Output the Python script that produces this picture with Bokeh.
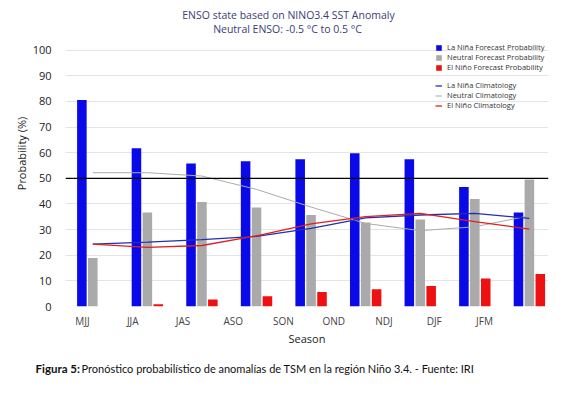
from bokeh.plotting import figure
from bokeh.layouts import column
from bokeh.models import (Range1d, LinearAxis, FixedTicker, Span, Legend, LegendItem, Label)
from bokeh.transform import dodge
from bokeh.embed import file_html
from bokeh.resources import INLINE

seasons = ["MJJ", "JJA", "JAS", "ASO", "SON", "OND", "NDJ", "DJF", "JFM"]
lanina_prob = [80.6, 61.7, 55.8, 56.7, 57.5, 59.8, 57.5, 46.6, 36.7]
neutral_prob = [18.9, 36.7, 40.8, 38.6, 35.7, 32.8, 33.9, 41.9, 49.6]
elnino_prob = [0.0, 0.9, 2.7, 4.0, 5.7, 6.7, 8.0, 10.9, 12.7]
lanina_clim = [24.3, 25.1, 26.1, 27.4, 30.5, 34.6, 35.7, 36.3, 34.4]
neutral_clim = [52.2, 52.2, 50.9, 45.7, 38.8, 32.4, 29.6, 31.1, 35.4]
elnino_clim = [24.3, 23.1, 23.8, 27.6, 32.2, 35.1, 36.3, 33.1, 30.2]
y_ticks = [0, 10, 20, 30, 40, 50, 60, 70, 80, 90, 100]

idx = list(range(len(seasons)))
src = dict(x=idx, lanina=lanina_prob, neutral=neutral_prob, elnino=elnino_prob,
           lclim=lanina_clim, nclim=neutral_clim, eclim=elnino_clim)

FONT = "Open Sans"

# y range extends above 100 so the header text sits inside the (white) frame
p = figure(width=551, height=348, output_backend="svg", toolbar_location=None,
           x_range=(-0.5, 8.35), y_range=(0, 119.4), x_axis_type=None,
           min_border_left=65, min_border_right=3, min_border_top=0, min_border_bottom=40)
p.outline_line_color = None
p.border_fill_color = "white"
p.frame_align = False

# gridlines / y axis
p.ygrid.ticker = FixedTicker(ticks=y_ticks)
p.ygrid.grid_line_color = "#e4e4e4"
p.yaxis.ticker = FixedTicker(ticks=y_ticks)
p.yaxis.axis_line_color = None
p.yaxis.major_tick_line_color = None
p.yaxis.major_tick_out = 0
p.yaxis.major_tick_in = 0
p.yaxis.minor_tick_line_color = None
p.yaxis.major_label_standoff = 14
p.yaxis.major_label_text_font = FONT
p.yaxis.major_label_text_font_size = "11px"
p.yaxis.major_label_text_color = "#222222"
p.yaxis.axis_label = "Probability (%)"
p.yaxis.axis_label_text_font = FONT
p.yaxis.axis_label_text_font_size = "11px"
p.yaxis.axis_label_text_font_style = "normal"
p.yaxis.axis_label_text_color = "#222222"
p.yaxis.axis_label_standoff = 1

# season label axis
p.extra_x_ranges = {"lab": Range1d(-0.338, 9.274)}
xax = LinearAxis(x_range_name="lab", ticker=FixedTicker(ticks=idx),
                 major_label_overrides={i: s for i, s in zip(idx, seasons)})
xax.axis_line_color = None
xax.major_tick_line_color = None
xax.major_tick_out = 0
xax.major_tick_in = 0
xax.minor_tick_line_color = None
xax.major_label_standoff = 7
xax.major_label_text_font = FONT
xax.major_label_text_font_size = "10px"
xax.major_label_text_color = "#444444"
xax.axis_label = "Season"
xax.axis_label_text_font = FONT
xax.axis_label_text_font_size = "11px"
xax.axis_label_text_font_style = "normal"
xax.axis_label_text_color = "#222222"
xax.axis_label_standoff = 0
p.add_layout(xax, "below")

p.add_layout(Span(location=50, dimension="width", line_color="black", line_width=1.2))

w = 0.175
b1 = p.vbar(x=dodge("x", -0.2, range=p.x_range), top="lanina", width=w, source=src,
            fill_color="#0a0ae8", line_color=None)
b2 = p.vbar(x="x", top="neutral", width=w, source=src, fill_color="#aaaaaa", line_color=None)
b3 = p.vbar(x=dodge("x", 0.2, range=p.x_range), top="elnino", width=w, source=src,
            fill_color="#ee1111", line_color=None)

l2 = p.line("x", "nclim", source=src, line_color="#ababab", line_width=1)
l1 = p.line("x", "lclim", source=src, line_color="#2230b0", line_width=1.3)
l3 = p.line("x", "eclim", source=src, line_color="#dd2020", line_width=1.3)

def mk_legend(items, loc):
    lg = Legend(items=items, location=loc, orientation="vertical",
                background_fill_alpha=0, border_line_color=None,
                padding=0, margin=0, spacing=-2,
                glyph_width=7, glyph_height=7, label_height=9, label_standoff=5,
                label_text_font=FONT, label_text_font_size="7.5px",
                label_text_color="#333333")
    return lg

leg1 = mk_legend([LegendItem(label="La Niña Forecast Probability", renderers=[b1]),
                  LegendItem(label="Neutral Forecast Probability", renderers=[b2]),
                  LegendItem(label="El Niño Forecast Probability", renderers=[b3])],
                 (370, 234))
leg2 = mk_legend([LegendItem(label="La Niña Climatology", renderers=[l1]),
                  LegendItem(label="Neutral Climatology", renderers=[l2]),
                  LegendItem(label="El Niño Climatology", renderers=[l3])],
                 (370, 196))
p.add_layout(leg1, "center")
p.add_layout(leg2, "center")

p.add_layout(Label(x=223, y=292, x_units="screen", y_units="screen",
                   text="ENSO state based on NINO3.4 SST Anomaly", text_align="center",
                   text_baseline="middle", text_font=FONT, text_font_size="10.5px",
                   text_color="#3c3c78"))
p.add_layout(Label(x=222, y=278, x_units="screen", y_units="screen",
                   text="Neutral ENSO: -0.5 °C to 0.5 °C", text_align="center",
                   text_baseline="middle", text_font=FONT, text_font_size="10.5px",
                   text_color="#3c3c78"))

# caption strip
cap = figure(width=551, height=30, output_backend="svg", toolbar_location=None,
             x_range=(0, 1), y_range=(0, 1), x_axis_type=None, y_axis_type=None,
             min_border=0, min_border_left=0, min_border_right=0,
             min_border_top=0, min_border_bottom=0)
cap.outline_line_color = None
cap.grid.visible = False
cap.frame_align = False
cap.add_layout(Label(x=35, y=10, x_units="screen", y_units="screen",
                     text="Figura 5:", text_align="left", text_baseline="middle",
                     text_font="Lato", text_font_size="11.5px", text_font_style="bold",
                     text_color="#111111"))
cap.add_layout(Label(x=81, y=10, x_units="screen", y_units="screen",
                     text="Pronóstico probabilístico de anomalías de TSM en la región Niño 3.4. - Fuente: IRI",
                     text_align="left", text_baseline="middle",
                     text_font="Lato", text_font_size="11px", text_color="#111111"))

layout = column(p, cap, spacing=0)
open("out.html", "w").write(file_html(layout, INLINE))
